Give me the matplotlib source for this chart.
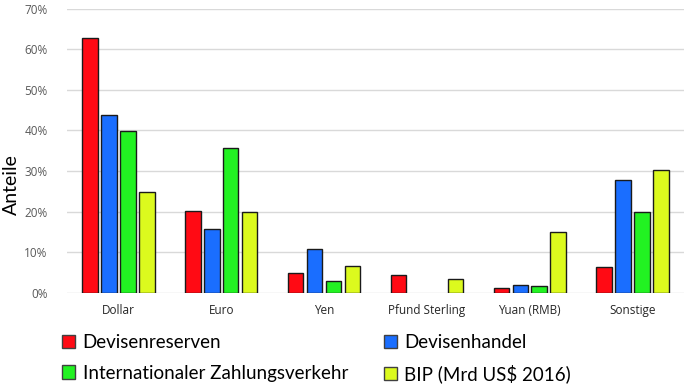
import matplotlib
matplotlib.use("Agg")
import matplotlib.pyplot as plt
from matplotlib.patches import Patch
import numpy as np

categories = ["Dollar", "Euro", "Yen", "Pfund Sterling", "Yuan (RMB)", "Sonstige"]
series_names = ["Devisenreserven", "Devisenhandel", "Internationaler Zahlungsverkehr", "BIP (Mrd US$ 2016)"]
devisenreserven = [62.8, 20.2, 4.9, 4.5, 1.2, 6.5]
devisenhandel = [43.9, 15.7, 10.8, 0.0, 2.0, 27.8]
zahlungsverkehr = [39.9, 35.7, 3.0, 0.0, 1.6, 19.9]
bip = [24.9, 20.0, 6.6, 3.5, 15.0, 30.3]
yticks = [0, 10, 20, 30, 40, 50, 60, 70]
colors = ["#ff0a14", "#1a6eff", "#22f222", "#dcfa1e"]

series = [devisenreserven, devisenhandel, zahlungsverkehr, bip]

fig = plt.figure(figsize=(6.85, 3.86), dpi=100)
ax = fig.add_axes([67/685, 1-293/386, (684-67)/685, (293-8.5)/386])

x = np.arange(len(categories)) + 0.5
step = 0.184
width = 0.15
for i, (vals, c) in enumerate(zip(series, colors)):
    v = np.array(vals)
    xs = x + (i - 1.5) * step
    mask = v > 0
    ax.bar(xs[mask], v[mask], width=width, color=c, edgecolor="#1a1a1a", linewidth=1.0, zorder=3)

ax.set_xlim(0, len(categories))
ax.set_ylim(0, 70)
ax.set_yticks(yticks)
ax.set_yticklabels([f"{t}%" for t in yticks], fontsize=8.5, color="#595959", family="Open Sans")
ax.set_xticks(x)
ax.set_xticklabels(categories, fontsize=8.5, color="#262626", family="Open Sans")
ax.tick_params(axis="both", length=0, pad=8)
ax.tick_params(axis="y", pad=14)
ax.yaxis.grid(True, color="#d9d9d9", linewidth=1.0, zorder=0)
for s in ax.spines.values():
    s.set_visible(False)
fig.text(11/685, 1-185/386, "Anteile", fontsize=14, family="Lato", color="#000000",
         rotation=90, ha="center", va="center")

order = [0, 2, 1, 3]
handles = [Patch(facecolor=colors[k], edgecolor="#404040", linewidth=1.0) for k in order]
labels = [series_names[k] for k in order]
fig.legend(handles, labels, loc="upper left", bbox_to_anchor=(62/685, 1-334/386),
           ncol=2, frameon=False, prop={"family": "Lato", "size": 13.5},
           handlelength=0.7, handleheight=0.7, handletextpad=0.4, columnspacing=1.9,
           labelspacing=0.72, borderaxespad=0, borderpad=0)

fig.savefig("out.png", dpi=100)
